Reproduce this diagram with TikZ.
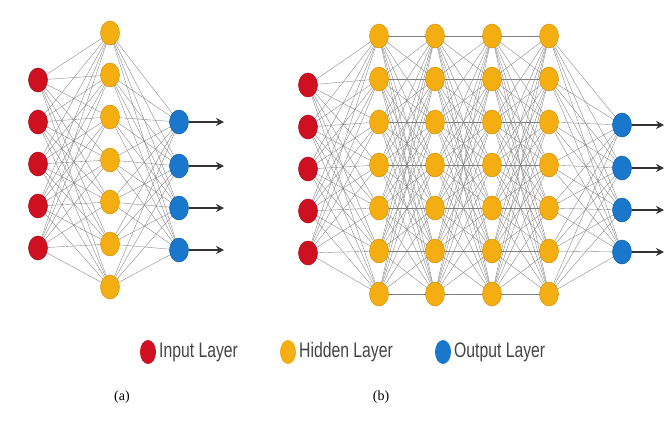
\documentclass[tikz,border=0pt]{standalone}
\usepackage{fontspec}
\setmainfont{Liberation Serif}
\newfontfamily\legfont[FakeStretch=0.75]{Liberation Sans}
\usetikzlibrary{arrows.meta,shapes.geometric,backgrounds}
\definecolor{inred}{HTML}{CF1020}
\definecolor{hidorg}{HTML}{F5AE12}
\definecolor{outblu}{HTML}{1A78CC}
\definecolor{legtxt}{HTML}{444444}
\begin{document}
\begin{tikzpicture}[x=1pt,y=-1pt,
  neuron/.style={ellipse,minimum width=19pt,minimum height=24pt,inner sep=0pt},
  inn/.style={neuron,fill=inred,draw=inred!80!black,line width=0.5pt},
  hid/.style={neuron,fill=hidorg,draw=hidorg!85!black,line width=0.5pt},
  outn/.style={neuron,fill=outblu,draw=outblu!80!black,line width=0.5pt},
  legdot/.style={ellipse,minimum width=16pt,minimum height=24pt,inner sep=0pt},
  link/.style={draw=black!50,line width=0.35pt},
  outarrow/.style={draw=black!80,line width=1.3pt,-{Stealth[length=8pt,width=8pt]}},
  legtext/.style={anchor=west,inner sep=0pt,text=legtxt,font=\legfont\fontsize{21}{22}\selectfont},
  caption/.style={font=\fontsize{14}{16}\selectfont}]
\path[use as bounding box] (0,0) rectangle (669,421);
% ---------- panel (a) ----------
\foreach \i/\y in {1/80,2/122,3/164,4/206,5/248}
  \node[inn] (ai\i) at (38,\y) {};
\foreach \j/\y in {1/33,2/75,3/117,4/160,5/202,6/244,7/287}
  \node[hid] (ah\j) at (110,\y) {};
\foreach \k/\y in {1/122,2/166,3/208,4/250}
  \node[outn] (ao\k) at (179,\y) {};
\foreach \k/\y in {1/122,2/166,3/208,4/250}
  \coordinate (aend\k) at (224,\y);
\begin{pgfonlayer}{background}
\foreach \i in {1,...,5}
  \foreach \j in {1,...,7}
    \draw[link] (ai\i.center) -- (ah\j.center);
\foreach \j in {1,...,7}
  \foreach \k in {1,...,4}
    \draw[link] (ah\j.center) -- (ao\k.center);
\end{pgfonlayer}
\foreach \k in {1,...,4}
  \draw[outarrow] (ao\k.east) -- (aend\k);
% ---------- panel (b) ----------
\foreach \i/\y in {1/85,2/127,3/169,4/211,5/253}
  \node[inn] (bi\i) at (308,\y) {};
\foreach \c/\x in {1/379,2/435,3/492,4/549}
  \foreach \j/\y in {1/36,2/79,3/122,4/165,5/208,6/251,7/294}
    \node[hid] (bh\c-\j) at (\x,\y) {};
\foreach \k/\y in {1/125,2/168,3/210,4/252}
  \node[outn] (bo\k) at (622,\y) {};
\foreach \k/\y in {1/125,2/168,3/210,4/252}
  \coordinate (bend\k) at (664,\y);
\begin{pgfonlayer}{background}
\foreach \i in {1,...,5}
  \foreach \j in {1,...,7}
    \draw[link] (bi\i.center) -- (bh1-\j.center);
\foreach \c/\n in {1/2,2/3,3/4}
  \foreach \j in {1,...,7}
    \foreach \m in {1,...,7}
      \draw[link] (bh\c-\j.center) -- (bh\n-\m.center);
\foreach \j in {1,...,7}
  \foreach \k in {1,...,4}
    \draw[link] (bh4-\j.center) -- (bo\k.center);
\end{pgfonlayer}
\foreach \k in {1,...,4}
  \draw[outarrow] (bo\k.east) -- (bend\k);
% ---------- legend ----------
\node[legdot,fill=inred] (lin) at (148,352) {};
\node[legtext] (tin) at (159,352) {Input Layer};
\node[legdot,fill=hidorg] (lhid) at (288,352) {};
\node[legtext] (thid) at (299,352) {Hidden Layer};
\node[legdot,fill=outblu] (lout) at (443,352) {};
\node[legtext] (tout) at (454,352) {Output Layer};
% ---------- captions ----------
\node[caption] (capa) at (122,397) {(a)};
\node[caption] (capb) at (381,397) {(b)};
\end{tikzpicture}
\end{document}
